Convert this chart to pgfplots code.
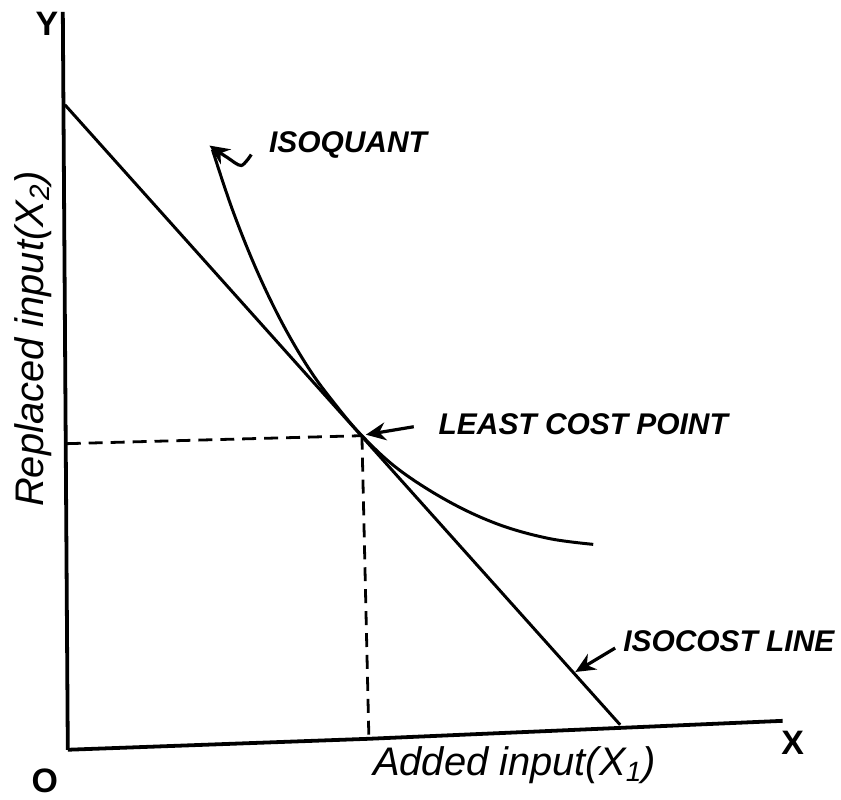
\documentclass[border=0pt]{standalone}
\usepackage{fontspec}
\setmainfont{Liberation Sans}
\usepackage{pgfplots}
\pgfplotsset{compat=1.18}
\usetikzlibrary{arrows.meta}
\begin{document}
\begin{tikzpicture}
\begin{axis}[
  scale only axis, width=420.5pt, height=399pt,
  xmin=0, xmax=841, ymin=0, ymax=798,
  hide axis, clip=false,
]
\path (axis cs:0,0) rectangle (axis cs:841,798);
% axes
\addplot[black, line width=1.9pt, no marks] coordinates {(63,786) (68,46)};
\addplot[black, line width=1.9pt, no marks] coordinates {(68,46) (370,57) (785,75)};
% isocost line
\addplot[black, line width=1.5pt, no marks] coordinates {(65,693) (622,71)};
% isoquant
\addplot[black, line width=1.5pt, no marks, smooth, tension=0.6] coordinates {
  (213,648) (233,588) (257,528) (283,474) (310,428) (335,394) (363,361)
  (400,327) (450,295) (500,272) (550,258) (595,252)};
% dashed guide lines
\addplot[black, line width=1.4pt, no marks, dash pattern=on 7pt off 4pt] coordinates {(67,353) (363,361)};
\addplot[black, line width=1.4pt, no marks, dash pattern=on 7pt off 4pt] coordinates {(363,361) (370,57)};
% annotation arrows
\addplot[black, line width=1.6pt, no marks, smooth, -{Stealth[length=10pt,width=9pt]}] coordinates {(252,643) (242,632) (228,640) (210,652)};
\addplot[black, line width=1.6pt, no marks, -{Stealth[length=10pt,width=9pt]}] coordinates {(415,370) (367,362)};
\addplot[black, line width=1.6pt, no marks, -{Stealth[length=10pt,width=9pt]}] coordinates {(617,148) (577,124)};
% labels
\node[font=\fontsize{15}{15}\selectfont\bfseries\itshape] at (axis cs:349,653) {ISOQUANT};
\node[font=\fontsize{15}{15}\selectfont\bfseries\itshape] at (axis cs:585,373) {LEAST COST POINT};
\node[font=\fontsize{15}{15}\selectfont\bfseries\itshape] at (axis cs:731,155) {ISOCOST LINE};
\node[font=\fontsize{20}{20}\selectfont\itshape] at (axis cs:516,31) {Added input(X\textsubscript{1})};
\node[font=\fontsize{20}{20}\selectfont\itshape, rotate=90] at (axis cs:33,458) {Replaced input(X\textsubscript{2})};
\node[font=\fontsize{17}{17}\selectfont\bfseries] at (axis cs:47,774) {Y};
\node[font=\fontsize{17}{17}\selectfont\bfseries] at (axis cs:795,53) {X};
\node[font=\fontsize{17}{17}\selectfont\bfseries] at (axis cs:45,15) {O};
\end{axis}
\end{tikzpicture}
\end{document}
